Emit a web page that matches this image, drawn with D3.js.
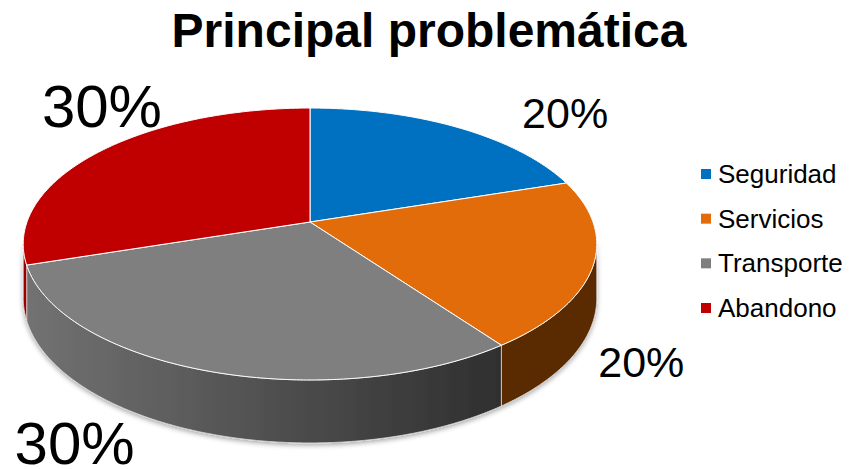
<!DOCTYPE html>
<html>
<head>
<meta charset="utf-8">
<script src="https://cdn.jsdelivr.net/npm/d3@7"></script>
<style>
  html, body { margin: 0; padding: 0; background: #fff; }
  svg { display: block; font-family: "Liberation Sans", Arial, sans-serif; }
</style>
</head>
<body>
<svg id="chart" width="850" height="469"></svg>
<script>
// Survey answers: main problem reported
const categories = ["Seguridad", "Servicios", "Transporte", "Abandono"];
const values = [20, 20, 30, 30];
const topColors = ["#0070C0", "#E36C0A", "#7F7F7F", "#C00000"];
const sideColors = ["#003A66", "#5A2C03", "url(#graySide)", "#9A0000"];
const titleText = "Principal problemática";

const W = 850, H = 469;
const svg = d3.select("#chart");

// Perspective disc: centre, radii, perspective factor and thickness
const X0 = 310, Y0 = 222, A = 283, B = 132.4, K = 0.1618, DEPTH = 52.8;

function proj(theta, rho, drop) {
  const c = rho * Math.cos(theta), s = rho * Math.sin(theta);
  const w = 1 + K * c;
  return [X0 + A * s / w, Y0 + (-B * c + drop) / w];
}

const pie = d3.pie().sort(null).value(d => d)(values);
const total = d3.sum(values);

const defs = svg.append("defs");
const g1 = defs.append("linearGradient").attr("id", "graySide")
  .attr("gradientUnits", "userSpaceOnUse")
  .attr("x1", X0 - A).attr("x2", X0 + A * 0.7).attr("y1", 0).attr("y2", 0);
g1.append("stop").attr("offset", "0%").attr("stop-color", "#727272");
g1.append("stop").attr("offset", "100%").attr("stop-color", "#2E2E2E");

const sh = defs.append("filter").attr("id", "shadow")
  .attr("x", "-10%").attr("y", "-10%").attr("width", "120%").attr("height", "130%");
sh.append("feDropShadow").attr("dx", 0).attr("dy", 2).attr("stdDeviation", 2.5)
  .attr("flood-color", "#000").attr("flood-opacity", 0.35);

// Visible range of the cylinder wall (between the silhouette tangents)
const vis0 = Math.acos(-K), vis1 = 2 * Math.PI - Math.acos(-K);

function arcPts(a0, a1, drop) {
  const n = Math.max(2, Math.ceil(Math.abs(a1 - a0) / 0.01));
  return d3.range(n + 1).map(i => proj(a0 + (a1 - a0) * i / n, 1, drop));
}

const sides = svg.append("g").attr("filter", "url(#shadow)");
pie.forEach((p, i) => {
  const a0 = Math.max(p.startAngle, vis0), a1 = Math.min(p.endAngle, vis1);
  if (a1 <= a0) return;
  const pts = arcPts(a0, a1, 0).concat(arcPts(a1, a0, DEPTH));
  sides.append("path")
    .attr("d", "M" + pts.map(q => q.join(",")).join("L") + "Z")
    .attr("fill", sideColors[i])
    .attr("stroke", "#d9d9d9").attr("stroke-width", 0.8);
});

const tops = svg.append("g");
pie.forEach((p, i) => {
  const pts = [[X0, Y0]].concat(arcPts(p.startAngle, p.endAngle, 0));
  tops.append("path")
    .attr("d", "M" + pts.map(q => q.join(",")).join("L") + "Z")
    .attr("fill", topColors[i])
    .attr("stroke", "#ffffff").attr("stroke-width", 1).attr("stroke-linejoin", "round");
});

// Percentage labels, placed relative to the rim point at each slice's middle
const labelShift = [[108, -15], [48, 97], [-132, 72], [1, -45]];
const labelSize = [43, 43, 60, 60];
pie.forEach((p, i) => {
  const mid = (p.startAngle + p.endAngle) / 2;
  const r = proj(mid, 1, 0);
  svg.append("text")
    .attr("x", r[0] + labelShift[i][0])
    .attr("y", r[1] + labelShift[i][1] + labelSize[i] * 0.358)
    .attr("text-anchor", "middle")
    .attr("font-size", labelSize[i])
    .attr("fill", "#000")
    .text(d3.format(".0%")(values[i] / total));
});

// Title
svg.append("text")
  .attr("x", 429).attr("y", 47)
  .attr("text-anchor", "middle")
  .attr("font-size", 48).attr("font-weight", "bold")
  .attr("fill", "#000")
  .text(titleText);

// Legend
const legY = d3.scalePoint().domain(categories).range([174, 308]);
const leg = svg.append("g");
categories.forEach((c, i) => {
  leg.append("rect")
    .attr("x", 701).attr("y", legY(c) - 5)
    .attr("width", 10).attr("height", 10)
    .attr("fill", topColors[i]);
  leg.append("text")
    .attr("x", 718).attr("y", legY(c) + 9)
    .attr("font-size", 26)
    .attr("fill", "#000")
    .text(c);
});
</script>
</body>
</html>
